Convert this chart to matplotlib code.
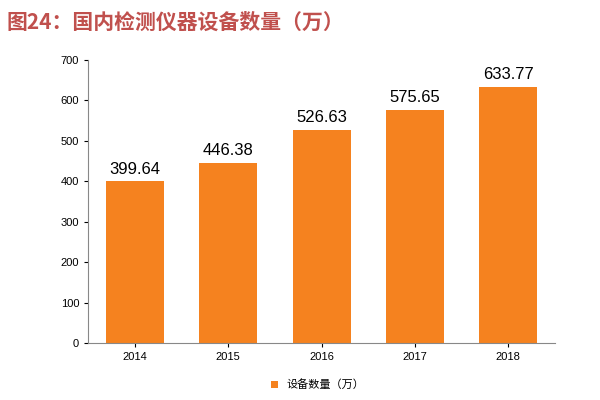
import matplotlib
matplotlib.use("Agg")
import matplotlib.pyplot as plt

plt.rcParams["font.sans-serif"] = ["Noto Sans CJK SC", "DejaVu Sans"]
plt.rcParams["axes.unicode_minus"] = False

years = ["2014", "2015", "2016", "2017", "2018"]
values = [399.64, 446.38, 526.63, 575.65, 633.77]
title = "图24：国内检测仪器设备数量（万）"
legend_label = "设备数量（万）"

BAR_COLOR = "#F5821F"

fig = plt.figure(figsize=(6, 4), dpi=100)
ax = fig.add_axes([0.147, 0.1425, 0.778, 0.7075])
x = range(len(years))
bars = ax.bar(x, values, width=0.62, color=BAR_COLOR, label=legend_label)
for xi, v in zip(x, values):
    ax.text(xi, v + 12, f"{v:.2f}", ha="center", va="bottom", fontsize=12,
            family="Liberation Sans")

ax.set_xticks(list(x))
ax.set_xticklabels(years, fontsize=8, family="Liberation Sans")
ax.set_xlim(-0.5, len(years) - 0.5)
ax.set_ylim(0, 700)
ax.set_yticks(range(0, 701, 100))
ax.tick_params(axis="y", labelsize=8, length=3)
ax.tick_params(axis="x", length=3)
for lbl in ax.get_yticklabels():
    lbl.set_family("Liberation Sans")
for s in ["top", "right"]:
    ax.spines[s].set_visible(False)
ax.spines["left"].set_color("#888888")
ax.spines["bottom"].set_color("#888888")

fig.text(0.01, 0.945, title, fontsize=15, fontweight="bold", color="#C0504D",
         va="center", ha="left")
fig.legend(loc="lower center", bbox_to_anchor=(0.53, 0.0), frameon=False,
           fontsize=8, handlelength=0.6, handleheight=0.6)

fig.savefig("out.png", dpi=100)
